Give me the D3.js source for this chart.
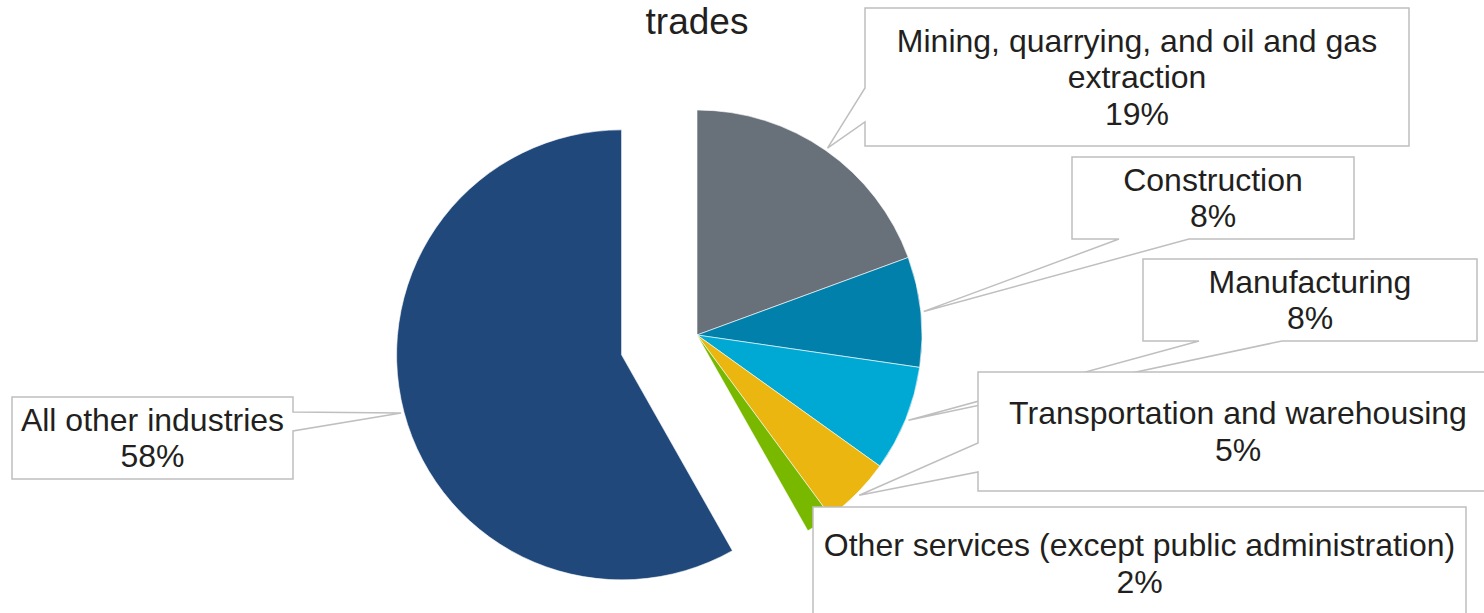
<!DOCTYPE html>
<html>
<head>
<meta charset="utf-8">
<script src="https://cdn.jsdelivr.net/npm/d3@7"></script>
<style>
  html, body { margin: 0; padding: 0; background: #fff; }
  svg { display: block; }
  text { font-family: "Liberation Sans", Arial, sans-serif; fill: #231f20; }
</style>
</head>
<body>
<svg id="chart"></svg>
<script>
    const width = 1484
    const height = 613

    // 数据
    const categories = [
      "Mining, quarrying, and oil and gas extraction",
      "Construction",
      "Manufacturing",
      "Transportation and warehousing",
      "Other services (except public administration)",
      "All other industries"
    ]
    const shares = [19.4, 7.9, 7.6, 5.0, 1.9, 58.2]
    const labelLines = [
      ["Mining, quarrying, and oil and gas", "extraction"],
      ["Construction"],
      ["Manufacturing"],
      ["Transportation and warehousing"],
      ["Other services (except public administration)"],
      ["All other industries"]
    ]
    const colors = ["#68707a", "#0080ab", "#00a9d3", "#ebb60f", "#78b900", "#20487b"]
    const titleText = "trades"

    // 布局：标注框位置与指针底边
    const boxes = [
      {x: 865, y: 8, w: 544, h: 138, side: "left", b0: 88, b1: 122},
      {x: 1072, y: 157, w: 282, h: 82, side: "bottom", b0: 1119, b1: 1189},
      {x: 1143, y: 259, w: 334, h: 82, side: "bottom", b0: 1199, b1: 1282},
      {x: 978, y: 372, w: 520, h: 119, side: "left", b0: 443, b1: 472},
      {x: 813, y: 507, w: 653, h: 113, side: null},
      {x: 12, y: 397, w: 281, h: 82, side: "right", b0: 412, b1: 431}
    ]

    const cx = 697, cy = 335, radius = 225, explode = 78

    const data = categories.map((c, i) => ({name: c, value: shares[i], lines: labelLines[i], color: colors[i], box: boxes[i]}))

    const svg = d3.select("#chart")
      .attr("width", width)
      .attr("height", height)
      .attr("viewBox", [0, 0, width, height])

    // 标题（上方被截断，只剩最后一行）
    svg.append("text")
      .attr("x", cx)
      .attr("y", 34)
      .attr("text-anchor", "middle")
      .attr("font-size", 37)
      .text(titleText)

    const pie = d3.pie().sort(null).value(d => d.value)
    const arcs = pie(data)
    const arc = d3.arc().innerRadius(0).outerRadius(radius)

    // 最后一块向外分离
    const offset = d => {
      if (d.index !== data.length - 1) return [0, 0]
      const a = (d.startAngle + d.endAngle) / 2
      return [explode * Math.sin(a), -explode * Math.cos(a)]
    }

    svg.append("g")
      .attr("class", "slices")
      .attr("transform", `translate(${cx},${cy})`)
      .selectAll("path")
      .data(arcs)
      .join("path")
      .attr("transform", d => `translate(${offset(d)})`)
      .attr("d", arc)
      .attr("fill", d => d.data.color)
      .attr("stroke", "#ffffff")
      .attr("stroke-width", 0.6)

    // 指针目标点：扇区中角方向、半径略大于饼
    const target = d => {
      const a = (d.startAngle + d.endAngle) / 2
      const o = offset(d)
      const r = radius + 3
      return [cx + o[0] + r * Math.sin(a), cy + o[1] - r * Math.cos(a)]
    }

    function calloutPath(b, t) {
      const x0 = b.x, y0 = b.y, x1 = b.x + b.w, y1 = b.y + b.h
      const p = d3.path()
      p.moveTo(x0, y0)
      p.lineTo(x1, y0)
      if (b.side === "right") {
        p.lineTo(x1, b.b0); p.lineTo(t[0], t[1]); p.lineTo(x1, b.b1)
      }
      p.lineTo(x1, y1)
      if (b.side === "bottom") {
        p.lineTo(b.b1, y1); p.lineTo(t[0], t[1]); p.lineTo(b.b0, y1)
      }
      p.lineTo(x0, y1)
      if (b.side === "left") {
        p.lineTo(x0, b.b1); p.lineTo(t[0], t[1]); p.lineTo(x0, b.b0)
      }
      p.closePath()
      return p.toString()
    }

    const fontSize = 32, lineGap = 36.5

    const callouts = svg.append("g")
      .attr("class", "callouts")
      .selectAll("g")
      .data(arcs)
      .join("g")

    callouts.append("path")
      .attr("d", d => calloutPath(d.data.box, target(d)))
      .attr("fill", "#ffffff")
      .attr("stroke", "#bfbfbf")
      .attr("stroke-width", 1.5)
      .attr("stroke-linejoin", "miter")

    callouts.each(function(d) {
      const b = d.data.box
      const lines = d.data.lines.concat([Math.round(d.data.value) + "%"])
      const midY = b.y + b.h / 2
      const firstY = midY - (lines.length - 1) * lineGap / 2
      d3.select(this).append("text")
        .attr("text-anchor", "middle")
        .attr("font-size", fontSize)
        .selectAll("tspan")
        .data(lines)
        .join("tspan")
        .attr("x", b.x + b.w / 2)
        .attr("y", (l, i) => firstY + i * lineGap + fontSize * 0.35)
        .text(l => l)
    })
</script>
</body>
</html>
